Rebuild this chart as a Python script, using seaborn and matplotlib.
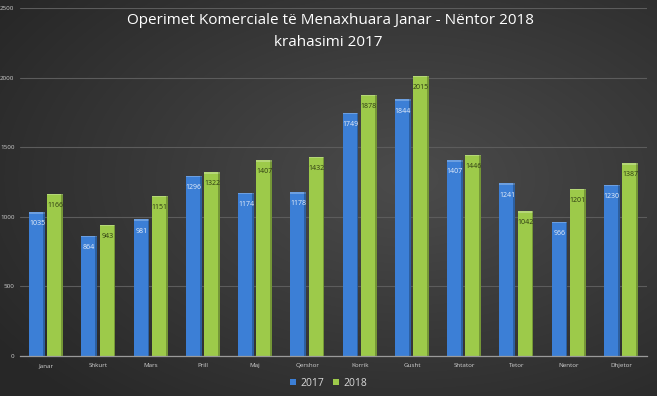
import numpy as np
import pandas as pd
import matplotlib
matplotlib.use("Agg")
import matplotlib.pyplot as plt
import seaborn as sns

months = ["Janar", "Shkurt", "Mars", "Prill", "Maj", "Qershor", "Korrik",
          "Gusht", "Shtator", "Tetor", "Nentor", "Dhjetor"]
v2017 = [1035, 864, 981, 1296, 1174, 1178, 1749, 1844, 1407, 1241, 966, 1230]
v2018 = [1166, 943, 1151, 1322, 1407, 1432, 1878, 2015, 1446, 1042, 1201, 1387]
series = ["2017", "2018"]
yticks = [0, 500, 1000, 1500, 2000, 2500]

df = pd.DataFrame({
    "Muaji": months * 2,
    "Vlera": v2017 + v2018,
    "Viti": [series[0]] * len(months) + [series[1]] * len(months),
})

sns.set_theme(style="dark")
plt.rcParams['font.family'] = ['Open Sans', 'DejaVu Sans']

W, H = 657, 396
fig = plt.figure(figsize=(W / 100, H / 100), dpi=100)

# background gradient
bg = fig.add_axes([0, 0, 1, 1], zorder=-10)
yy, xx = np.mgrid[0:H, 0:W]
cx, cy = 0.62 * W, 0.45 * H
r = np.sqrt(((xx - cx) / W) ** 2 + ((yy - cy) / H) ** 2)
r = np.clip(r / 0.75, 0, 1)
val = 0.295 - 0.14 * r
img = np.dstack([val, val, val])
bg.imshow(img, aspect="auto", extent=[0, 1, 0, 1])
bg.set_axis_off()

ax = fig.add_axes([20 / W, 1 - 356 / H, 627 / W, 348 / H])
ax.patch.set_alpha(0)
palette = {"2017": "#3c7fd6", "2018": "#9dca4a"}
sns.barplot(data=df, x="Muaji", y="Vlera", hue="Viti", palette=palette,
            width=0.7, gap=0.13, ax=ax, saturation=1, legend=False,
            edgecolor="none", errorbar=None)

ax.set_ylim(0, 2500)
ax.set_xlim(-0.5, len(months) - 0.5)
ax.set_yticks(yticks)
ax.set_yticklabels([str(t) for t in yticks])
ax.tick_params(axis="y", labelsize=4.5, colors="#cfcfcf", length=0, pad=4)
ax.tick_params(axis="x", labelsize=4.5, colors="#cfcfcf", length=0, pad=5)
ax.set_xlabel("")
ax.set_ylabel("")
ax.grid(axis="y", color="#5c5c5c", linewidth=0.8)
ax.grid(axis="x", visible=False)
ax.set_axisbelow(True)
for s in ["top", "right", "left"]:
    ax.spines[s].set_visible(False)
ax.spines["bottom"].set_color("#9a9a9a")
ax.spines["bottom"].set_linewidth(0.9)

text_colors = {0: "#e6eefa", 1: "#2d3a12"}
for i, cont in enumerate(ax.containers):
    for bar in cont:
        x0 = bar.get_x(); w = bar.get_width(); h = bar.get_height()
        ax.add_patch(plt.Rectangle((x0, h - 12), w, 12,
                                   color="#ffffff", alpha=0.25, lw=0, zorder=3))
        ax.add_patch(plt.Rectangle((x0 + w * 0.88, 0), w * 0.12, h,
                                   color="#000000", alpha=0.25, lw=0, zorder=3))
    ax.bar_label(cont, labels=[str(int(b.get_height())) for b in cont],
                 label_type="edge", padding=-11, fontsize=5,
                 color=text_colors[i], zorder=5)

from matplotlib.patches import Patch
handles = [Patch(facecolor=palette[s], edgecolor="none") for s in series]
fig.legend(handles, series, loc="center", bbox_to_anchor=(0.5, 1 - 383 / H),
           ncol=2, frameon=False, fontsize=7.5, labelcolor="#d8d8d8",
           handlelength=0.6, handleheight=0.6, handletextpad=0.4,
           columnspacing=0.8)

fig.text(0.503, 1 - 20 / H, "Operimet Komerciale të Menaxhuara Janar - Nëntor 2018",
         ha="center", va="center", fontsize=11, color="white")
fig.text(0.5, 1 - 42 / H, "krahasimi 2017",
         ha="center", va="center", fontsize=11, color="white")

fig.savefig("out.png", dpi=100)
